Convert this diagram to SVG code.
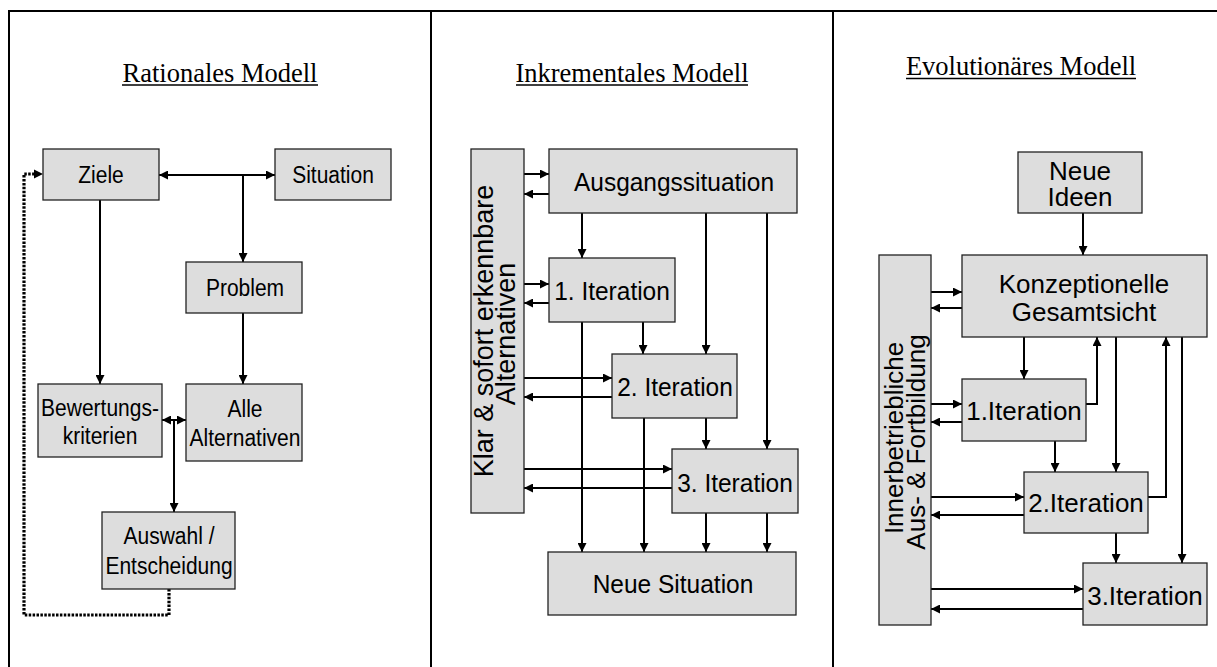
<svg xmlns="http://www.w3.org/2000/svg" width="1217" height="667" viewBox="0 0 1217 667">
  <style>
    .frame { stroke: #000; stroke-width: 2; fill: none; }
    .box { fill: #dddddd; stroke: #222; stroke-width: 1.3; }
    .t { font-family: "Liberation Sans", Arial, sans-serif; text-anchor: middle; fill: #000; }
    .s21 { font-size: 21px; }
    .s24 { font-size: 24.5px; }
    .s26 { font-size: 26px; }
    .s27 { font-size: 27px; }
    .title { font-family: "Liberation Serif", "Times New Roman", serif; font-size: 26.5px; text-anchor: middle; fill: #000; }
    .ul { stroke: #000; stroke-width: 1.5; }
    .c { stroke: #000; stroke-width: 2; fill: none; }
    .a { marker-end: url(#ah); }
    .aa { marker-start: url(#ah); marker-end: url(#ah); }
    .dot { stroke: #000; stroke-width: 3.2; stroke-dasharray: 2.5 1.4; fill: none; }
  </style>
  <defs>
    <marker id="ah" viewBox="0 0 9 9" refX="9" refY="4.5" markerWidth="9" markerHeight="9" markerUnits="userSpaceOnUse" orient="auto-start-reverse">
      <path d="M0,0 L9,4.5 L0,9 z" fill="#000"/>
    </marker>
  </defs>

  <rect width="1217" height="667" fill="#fff"/>

  <!-- table frame -->
  <g id="frame">
    <line class="frame" x1="8" y1="11" x2="1217" y2="11"/>
    <line class="frame" x1="9" y1="11" x2="9" y2="667"/>
    <line class="frame" x1="431" y1="11" x2="431" y2="667"/>
    <line class="frame" x1="833" y1="11" x2="833" y2="667"/>
  </g>

  <!-- column headings -->
  <g id="titles">
    <text class="title" transform="translate(220,81.5) scale(1,1.05)">Rationales Modell</text>
    <line class="ul" x1="122" y1="85" x2="318" y2="85"/>
    <text class="title" transform="translate(632,81.5) scale(1,1.05)">Inkrementales Modell</text>
    <line class="ul" x1="516" y1="85" x2="748" y2="85"/>
    <text class="title" transform="translate(1021,75) scale(1,1.05)">Evolutionäres Modell</text>
    <line class="ul" x1="906" y1="78.5" x2="1136" y2="78.5"/>
  </g>

  <!-- connectors -->
  <g id="connectors">
    <!-- rational model -->
    <line class="c aa" x1="159" y1="175" x2="275" y2="175"/>
    <line class="c a" x1="243" y1="175" x2="243" y2="262"/>
    <line class="c a" x1="100" y1="200" x2="100" y2="384"/>
    <line class="c a" x1="243" y1="313" x2="243" y2="384"/>
    <line class="c aa" x1="162" y1="420" x2="186" y2="420"/>
    <line class="c a" x1="174" y1="420" x2="174" y2="512"/>
    <path class="dot" d="M169,589 V615 H24 V174 H36"/>
    <path d="M34,169.5 L43,174 L34,178.5 z" fill="#000"/>

    <!-- incremental model -->
    <line class="c a" x1="524" y1="174" x2="549" y2="174"/>
    <line class="c a" x1="549" y1="194" x2="524" y2="194"/>
    <line class="c a" x1="524" y1="284" x2="549" y2="284"/>
    <line class="c a" x1="549" y1="303" x2="524" y2="303"/>
    <line class="c a" x1="524" y1="378" x2="612" y2="378"/>
    <line class="c a" x1="612" y1="397" x2="524" y2="397"/>
    <line class="c a" x1="524" y1="469" x2="672" y2="469"/>
    <line class="c a" x1="672" y1="488" x2="524" y2="488"/>
    <line class="c a" x1="582" y1="213" x2="582" y2="258"/>
    <line class="c a" x1="706" y1="213" x2="706" y2="354"/>
    <line class="c a" x1="767" y1="213" x2="767" y2="449"/>
    <line class="c a" x1="643" y1="322" x2="643" y2="354"/>
    <line class="c a" x1="582" y1="322" x2="582" y2="552"/>
    <line class="c a" x1="644" y1="418" x2="644" y2="552"/>
    <line class="c a" x1="706" y1="418" x2="706" y2="449"/>
    <line class="c a" x1="706" y1="513" x2="706" y2="552"/>
    <line class="c a" x1="767" y1="513" x2="767" y2="552"/>

    <!-- evolutionary model -->
    <line class="c a" x1="1083" y1="213" x2="1083" y2="255"/>
    <line class="c a" x1="931" y1="292" x2="962" y2="292"/>
    <line class="c a" x1="962" y1="308" x2="931" y2="308"/>
    <line class="c a" x1="1024" y1="337" x2="1024" y2="379"/>
    <line class="c a" x1="931" y1="404" x2="962" y2="404"/>
    <line class="c a" x1="962" y1="422" x2="931" y2="422"/>
    <path class="c a" d="M1086,404 H1097 V337"/>
    <line class="c a" x1="1055" y1="441" x2="1055" y2="472"/>
    <line class="c a" x1="1116" y1="337" x2="1116" y2="472"/>
    <line class="c a" x1="931" y1="497" x2="1024" y2="497"/>
    <line class="c a" x1="1024" y1="515" x2="931" y2="515"/>
    <path class="c a" d="M1148,497 H1166 V337"/>
    <line class="c a" x1="1116" y1="533" x2="1116" y2="563"/>
    <line class="c a" x1="1182" y1="337" x2="1182" y2="563"/>
    <line class="c a" x1="931" y1="589" x2="1083" y2="589"/>
    <line class="c a" x1="1083" y1="609" x2="931" y2="609"/>
  </g>

  <!-- rational model nodes (labels slightly stretched vertically) -->
  <g id="ziele">
    <rect class="box" x="43" y="149" width="116" height="51"/>
    <text class="t s21" transform="translate(101,183) scale(1,1.13)">Ziele</text>
  </g>
  <g id="situation">
    <rect class="box" x="275" y="149" width="116" height="51"/>
    <text class="t s21" transform="translate(333,183) scale(1,1.13)">Situation</text>
  </g>
  <g id="problem">
    <rect class="box" x="186" y="262" width="116" height="51"/>
    <text class="t s21" transform="translate(245,296) scale(1,1.13)">Problem</text>
  </g>
  <g id="bewertungskriterien">
    <rect class="box" x="38" y="384" width="124" height="73"/>
    <text class="t s21" transform="translate(100,416) scale(1,1.13)">Bewertungs-</text>
    <text class="t s21" transform="translate(100,444) scale(1,1.13)">kriterien</text>
  </g>
  <g id="alle-alternativen">
    <rect class="box" x="186" y="384" width="116" height="77"/>
    <text class="t s21" transform="translate(245,417) scale(1,1.13)">Alle</text>
    <text class="t s21" transform="translate(245,446) scale(1,1.13)">Alternativen</text>
  </g>
  <g id="auswahl">
    <rect class="box" x="102" y="512" width="133" height="77"/>
    <text class="t s21" transform="translate(169,544) scale(1,1.13)">Auswahl /</text>
    <text class="t s21" transform="translate(169,574) scale(1,1.13)">Entscheidung</text>
  </g>

  <!-- incremental model nodes -->
  <g id="alternativen-bar">
    <rect class="box" x="471" y="149" width="53" height="364"/>
    <text class="t s27" transform="translate(493,331) rotate(-90)">Klar &amp; sofort erkennbare</text>
    <text class="t s27" transform="translate(515,334) rotate(-90)">Alternativen</text>
  </g>
  <g id="ausgangssituation">
    <rect class="box" x="549" y="149" width="248" height="64"/>
    <text class="t s24" transform="translate(674,191) scale(1,1.08)">Ausgangssituation</text>
  </g>
  <g id="inc-iteration-1">
    <rect class="box" x="549" y="258" width="126" height="64"/>
    <text class="t s24" transform="translate(612,300) scale(1,1.08)">1. Iteration</text>
  </g>
  <g id="inc-iteration-2">
    <rect class="box" x="612" y="354" width="125" height="64"/>
    <text class="t s24" transform="translate(675,396) scale(1,1.08)">2. Iteration</text>
  </g>
  <g id="inc-iteration-3">
    <rect class="box" x="672" y="449" width="126" height="64"/>
    <text class="t s24" transform="translate(735,492) scale(1,1.08)">3. Iteration</text>
  </g>
  <g id="neue-situation">
    <rect class="box" x="548" y="552" width="248" height="63"/>
    <text class="t s24" transform="translate(673,593) scale(1,1.08)">Neue Situation</text>
  </g>

  <!-- evolutionary model nodes -->
  <g id="neue-ideen">
    <rect class="box" x="1018" y="152" width="124" height="61"/>
    <text class="t s26" x="1080" y="180">Neue</text>
    <text class="t s26" x="1080" y="206">Ideen</text>
  </g>
  <g id="gesamtsicht">
    <rect class="box" x="962" y="255" width="245" height="82"/>
    <text class="t s26" x="1084" y="293">Konzeptionelle</text>
    <text class="t s26" x="1084" y="321">Gesamtsicht</text>
  </g>
  <g id="fortbildung-bar">
    <rect class="box" x="879" y="255" width="52" height="370"/>
    <text class="t s26" transform="translate(903,438) rotate(-90)">Innerbetriebliche</text>
    <text class="t s26" transform="translate(925,442) rotate(-90)">Aus- &amp; Fortbildung</text>
  </g>
  <g id="evo-iteration-1">
    <rect class="box" x="962" y="379" width="124" height="62"/>
    <text class="t s26" x="1024" y="420">1.Iteration</text>
  </g>
  <g id="evo-iteration-2">
    <rect class="box" x="1024" y="472" width="124" height="61"/>
    <text class="t s26" x="1086" y="512">2.Iteration</text>
  </g>
  <g id="evo-iteration-3">
    <rect class="box" x="1083" y="563" width="124" height="62"/>
    <text class="t s26" x="1145" y="605">3.Iteration</text>
  </g>
</svg>
